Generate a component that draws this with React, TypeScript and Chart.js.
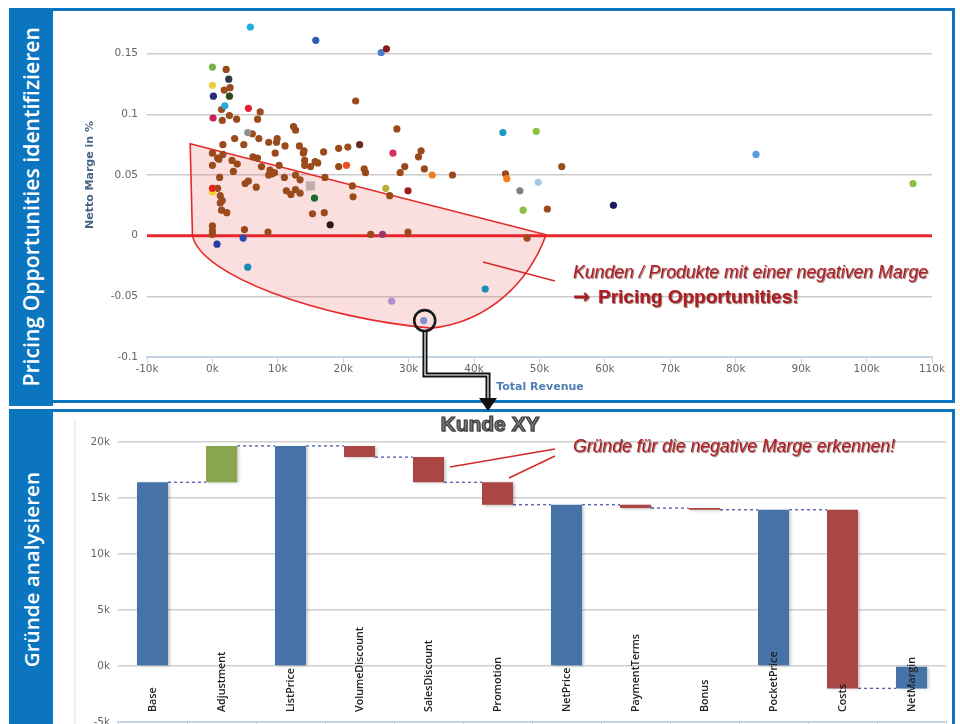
import React, { useEffect, useRef } from 'react';
import { Chart, registerables } from 'chart.js';

Chart.register(...registerables);
Chart.defaults.font.family = '"DejaVu Sans", "Liberation Sans", sans-serif';

// ---------------- Scatter data (Total Revenue in k, Netto Marge) ----------------
const brownRevenueK = [
  2.1, 1.8, 2.7, 21.9, 1.4, 7.3, 1.5, 2.6, 3.7, 6.9, 12.4, 12.7, 28.2, 6.1, 3.4, 7.1, 8.6, 9.9, 9.8, 11.1,
  13.3, 14.0, 13.9, 17.0, 19.3, 20.7, 31.9, 31.5, 1.6, 0.0, 0.8, 1.6, 4.8, 9.6, 6.2, 6.9, 3.0, 3.8, 0.0, 3.2,
  7.5, 8.8, 9.1, 9.5, 8.6, 10.2, 11.0, 12.7, 14.1, 14.1, 15.0, 16.1, 17.2, 19.3, 23.2, 23.4, 21.4, 29.4, 28.7, 32.4,
  36.7, 44.8, 5.0, 5.5, 6.7, 1.1, 0.8, 11.3, 12.0, 12.7, 13.4, 27.1, 1.2, 1.5, 1.2, 1.4, 2.2, 15.3, 17.1, 21.5,
  0.0, 0.0, 0.0, 4.9, 8.5, 24.2, 29.9, 48.1, 51.2, 53.4, 13.4, 1.0, 15.7
];
const brownMargin = [
  0.137, 0.120, 0.122, 0.111, 0.104, 0.102, 0.095, 0.099, 0.096, 0.096, 0.090, 0.087, 0.088, 0.084, 0.080, 0.080, 0.077, 0.080, 0.077, 0.074,
  0.074, 0.070, 0.068, 0.069, 0.072, 0.073, 0.070, 0.065, 0.075, 0.068, 0.064, 0.067, 0.075, 0.068, 0.065, 0.064, 0.062, 0.059, 0.058, 0.053,
  0.057, 0.054, 0.051, 0.052, 0.050, 0.058, 0.048, 0.050, 0.062, 0.058, 0.057, 0.060, 0.048, 0.057, 0.055, 0.052, 0.041, 0.057, 0.052, 0.055,
  0.050, 0.051, 0.043, 0.045, 0.040, 0.048, 0.039, 0.037, 0.034, 0.038, 0.035, 0.033, 0.033, 0.029, 0.027, 0.021, 0.019, 0.018, 0.019, 0.032,
  0.008, 0.004, 0.001, 0.005, 0.003, 0.001, 0.003, -0.002, 0.022, 0.057, 0.046, 0.063, 0.061
];
const otherRevenueK = [
  5.8, 15.8, 25.8, 26.6, 0.0, 2.5, 0.0, 0.15, 2.6, 1.9, 5.5, 0.1, 5.4, 44.4, 49.5, 22.5, 27.6, 20.5, 33.6, 45.0,
  83.1, 49.8, 26.5, 29.9, 0.0, 0.0, 15.6, 47.0, 47.5, 61.3, 107.1, 18.0, 26.0, 0.7, 4.7, 5.4, 41.7, 27.4, 32.3
];
const otherMargin = [
  0.172, 0.161, 0.151, 0.154, 0.139, 0.129, 0.124, 0.115, 0.115, 0.107, 0.105, 0.097, 0.085, 0.085, 0.086, 0.075, 0.068, 0.058, 0.050, 0.047,
  0.067, 0.044, 0.039, 0.037, 0.036, 0.039, 0.031, 0.037, 0.021, 0.025, 0.043, 0.009, 0.001, -0.007, -0.002, -0.026, -0.044, -0.054, -0.070
];
const otherColors = [
  '#1ab0e0', '#2a5db0', '#4a7cc8', '#8b1a1a', '#78b04a', '#2a3a48', '#e8d040', '#2a2a80', '#2f4a1a', '#22aae0',
  '#e8203a', '#c8205a', '#909090', '#1a9ac8', '#8ac040', '#6a2a2a', '#d8305a', '#f05020', '#f08020', '#f08020',
  '#5a9ae0', '#a8c8e8', '#b8b030', '#a01a1a', '#f0d020', '#e82020', '#1a6a2a', '#808080', '#8ac040', '#1a1a60',
  '#8ac040', '#2a1a10', '#9a3a6a', '#2a3aa0', '#2a4ab0', '#1a8ab8', '#1a8ab8', '#b090d0', '#8090d0'
];
const circledIndex = 38; // index in the "other" points (the circled customer)
const flaggedRevenueK = [15.0];
const flaggedMargin = [0.041];

const xTicksK = [-10, 0, 10, 20, 30, 40, 50, 60, 70, 80, 90, 100, 110];
const yTicksMargin = [-0.1, -0.05, 0, 0.05, 0.1, 0.15];

// Highlighted region (data coordinates): [revenueK, margin]
const regionTop = [-3.4, 0.0757];
const regionLeftBottom = [-3.05, 0];
const regionCurve1 = [[-1.8, -0.033], [16.5, -0.068], [33.4, -0.0762]];
const regionCurve2 = [[42.4, -0.0713], [48.5, -0.0369], [51.0, 0.0008]];

// ---------------- Waterfall data ----------------
const categories = [
  'Base', 'Adjustment', 'ListPrice', 'VolumeDiscount', 'SalesDiscount', 'Promotion',
  'NetPrice', 'PaymentTerms', 'Bonus', 'PocketPrice', 'Costs', 'NetMargin'
];
const stepValues = [16400, 3250, 0, -1000, -2250, -2000, 0, -300, -150, 0, -15950, 0];
const isSum = [false, false, true, false, false, false, true, false, false, true, false, true];
const yTicksWaterfall = [-5000, 0, 5000, 10000, 15000, 20000];

const BLUE = '#4572A7';
const GREEN = '#89A54E';
const RED = '#AA4643';
const FRAME = '#0b75c0';

const TOP_LEFT = 53, TOP_TOP = 2;
const BOT_LEFT = 53, BOT_TOP = 413;

function buildWaterfall() {
  let running = 0;
  const ranges: [number, number][] = [];
  const colors: string[] = [];
  const ends: number[] = [];
  stepValues.forEach((v, i) => {
    if (isSum[i]) {
      ranges.push([0, running]);
      colors.push(BLUE);
    } else if (i === 0) {
      running += v;
      ranges.push([0, running]);
      colors.push(BLUE);
    } else {
      const start = running;
      running += v;
      ranges.push([Math.min(start, running), Math.max(start, running)]);
      colors.push(v >= 0 ? GREEN : RED);
    }
    ends.push(running);
  });
  return { ranges, colors, ends };
}

function drawAnnoText(ctx: CanvasRenderingContext2D, text: string, x: number, y: number, font: string, maxW: number) {
  ctx.save();
  ctx.font = font;
  ctx.textAlign = 'left';
  ctx.textBaseline = 'middle';
  ctx.shadowColor = 'rgba(70,0,0,0.6)';
  ctx.shadowOffsetX = 1;
  ctx.shadowOffsetY = 1;
  ctx.shadowBlur = 1;
  ctx.fillStyle = '#b01b1f';
  ctx.fillText(text, x, y, maxW);
  ctx.restore();
}

function line(ctx: CanvasRenderingContext2D, x1: number, y1: number, x2: number, y2: number) {
  ctx.beginPath();
  ctx.moveTo(x1, y1);
  ctx.lineTo(x2, y2);
  ctx.stroke();
}

function ScatterChart() {
  const ref = useRef<HTMLCanvasElement>(null);
  useEffect(() => {
    if (!ref.current) return;
    const overlayPlugin = {
      id: 'scatterOverlay',
      beforeDatasetsDraw(chart: any) {
        const { ctx, scales, chartArea } = chart;
        const xs = scales.x, ys = scales.y;
        const P = (p: number[]) => [xs.getPixelForValue(p[0]), ys.getPixelForValue(p[1])];
        ctx.save();
        const t = P(regionTop), lb = P(regionLeftBottom);
        const c1 = regionCurve1.map(P), c2 = regionCurve2.map(P);
        ctx.beginPath();
        ctx.moveTo(t[0], t[1]);
        ctx.lineTo(lb[0], lb[1]);
        ctx.bezierCurveTo(c1[0][0], c1[0][1], c1[1][0], c1[1][1], c1[2][0], c1[2][1]);
        ctx.bezierCurveTo(c2[0][0], c2[0][1], c2[1][0], c2[1][1], c2[2][0], c2[2][1]);
        ctx.closePath();
        ctx.fillStyle = 'rgba(238,110,110,0.22)';
        ctx.fill();
        ctx.strokeStyle = '#e62a2a';
        ctx.lineWidth = 1.6;
        ctx.stroke();
        const y0 = ys.getPixelForValue(0);
        ctx.strokeStyle = '#e6262b';
        ctx.lineWidth = 3;
        line(ctx, chartArea.left, y0, chartArea.right, y0);
        ctx.restore();
      },
      afterDatasetsDraw(chart: any) {
        const { ctx, scales } = chart;
        const xs = scales.x, ys = scales.y;
        ctx.save();
        const cx = xs.getPixelForValue(otherRevenueK[circledIndex]);
        const cy = ys.getPixelForValue(otherMargin[circledIndex]);
        ctx.strokeStyle = '#1a1a1a';
        ctx.lineWidth = 2.6;
        ctx.beginPath();
        ctx.arc(cx + 1, cy, 10.5, 0, Math.PI * 2);
        ctx.stroke();
        // page coordinates from here on
        ctx.translate(-TOP_LEFT, -TOP_TOP);
        ctx.strokeStyle = '#d42a2a';
        ctx.lineWidth = 1.5;
        line(ctx, 483, 262, 555, 281);
        drawAnnoText(ctx, 'Kunden / Produkte mit einer negativen Marge', 573, 273, 'italic 18px "Liberation Sans"', 355);
        drawAnnoText(ctx, '\u2192', 573, 298, 'bold 20px "DejaVu Sans"', 24);
        drawAnnoText(ctx, 'Pricing Opportunities!', 598, 298, 'bold 19px "Liberation Sans"', 217);
        ctx.fillStyle = '#4a6584';
        ctx.font = 'bold 11px "DejaVu Sans"';
        ctx.textAlign = 'center';
        ctx.textBaseline = 'middle';
        ctx.save();
        ctx.translate(90, 175);
        ctx.rotate(-Math.PI / 2);
        ctx.fillText('Netto Marge in %', 0, 0);
        ctx.restore();
        ctx.fillStyle = '#4f7db5';
        ctx.fillText('Total Revenue', 540, 387, 92);
        ctx.restore();
      }
    };
    const chart = new Chart(ref.current, {
      type: 'scatter',
      data: {
        datasets: [
          {
            label: 'Andere',
            data: otherRevenueK.map((x, i) => ({ x, y: otherMargin[i] })),
            backgroundColor: otherColors,
            borderWidth: 0,
            pointRadius: 3.6,
          },
          {
            label: 'Markiert',
            data: flaggedRevenueK.map((x, i) => ({ x, y: flaggedMargin[i] })),
            backgroundColor: '#c0aeae',
            borderWidth: 0,
            pointStyle: 'rect',
            pointRadius: 6.5,
          },
          {
            label: 'Kunden',
            data: brownRevenueK.map((x, i) => ({ x, y: brownMargin[i] })),
            backgroundColor: '#9b4a1c',
            borderWidth: 0,
            pointRadius: 3.6,
          },
        ],
      },
      options: {
        animation: false,
        responsive: false,
        devicePixelRatio: 1,
        layout: { padding: { left: 0, right: 21, top: 4, bottom: 0 } },
        plugins: { legend: { display: false }, tooltip: { enabled: false } },
        scales: {
          x: {
            type: 'linear',
            min: -10,
            max: 110,
            afterBuildTicks: (s: any) => { s.ticks = xTicksK.map((v) => ({ value: v })); },
            afterFit: (s: any) => { s.height = 45; },
            ticks: {
              color: '#666',
              font: { size: 10.5 },
              padding: 0,
              maxRotation: 0,
              autoSkip: false,
              callback: (v: any) => `${v}k`,
            },
            grid: { drawOnChartArea: false, drawTicks: true, tickLength: 6, color: '#c4d4e4', lineWidth: 1 },
            border: { color: '#c4d4e4', width: 2 },
          },
          y: {
            type: 'linear',
            min: -0.1,
            max: 0.18,
            afterBuildTicks: (s: any) => { s.ticks = yTicksMargin.map((v) => ({ value: v })); },
            afterFit: (s: any) => { s.width = 94; },
            ticks: { color: '#666', font: { size: 10.5 }, padding: 9, callback: (v: any) => String(v) },
            grid: { color: '#cbcbcb', lineWidth: 1.5, drawTicks: false },
            border: { display: false },
          },
        },
      },
      plugins: [overlayPlugin],
    } as any);
    return () => chart.destroy();
  }, []);
  return <canvas ref={ref} width={900} height={400} style={{ position: 'absolute', left: TOP_LEFT, top: TOP_TOP, width: 900, height: 400 }} />;
}

function WaterfallChart() {
  const ref = useRef<HTMLCanvasElement>(null);
  useEffect(() => {
    if (!ref.current) return;
    const { ranges, colors, ends } = buildWaterfall();
    const plugin = {
      id: 'waterfallOverlay',
      beforeDatasetsDraw(chart: any) {
        const { ctx, scales } = chart;
        const meta = chart.getDatasetMeta(0);
        ctx.save();
        ctx.strokeStyle = '#e2e2e2';
        ctx.lineWidth = 1;
        line(ctx, 75 - BOT_LEFT, 420 - BOT_TOP, 75 - BOT_LEFT, 330);
        ctx.strokeStyle = '#5a62b0';
        ctx.lineWidth = 1.4;
        ctx.setLineDash([3, 3]);
        for (let i = 0; i < categories.length - 1; i++) {
          const a = meta.data[i], b = meta.data[i + 1];
          const y = scales.y.getPixelForValue(ends[i]);
          line(ctx, a.x + a.width / 2, y, b.x - b.width / 2, y);
        }
        ctx.restore();
      },
      beforeDatasetDraw(chart: any) {
        const ctx = chart.ctx;
        ctx.save();
        ctx.shadowColor = 'rgba(0,0,0,0.28)';
        ctx.shadowOffsetX = 2;
        ctx.shadowOffsetY = 1;
        ctx.shadowBlur = 3;
      },
      afterDatasetDraw(chart: any) {
        chart.ctx.restore();
      },
      afterDatasetsDraw(chart: any) {
        const { ctx, scales } = chart;
        ctx.save();
        ctx.fillStyle = '#222';
        ctx.font = '600 10.7px "Open Sans"';
        ctx.textAlign = 'left';
        ctx.textBaseline = 'middle';
        categories.forEach((c, i) => {
          const x = scales.x.getPixelForValue(i);
          ctx.save();
          ctx.translate(x, 712 - BOT_TOP);
          ctx.rotate(-Math.PI / 2);
          ctx.fillText(c, 0, 0);
          ctx.restore();
        });
        // page coordinates from here on
        ctx.translate(-BOT_LEFT, -BOT_TOP);
        ctx.font = 'bold 21px "Liberation Sans"';
        ctx.textAlign = 'center';
        ctx.textBaseline = 'middle';
        ctx.lineWidth = 1;
        ctx.strokeStyle = '#333';
        ctx.fillStyle = '#777';
        ctx.shadowColor = 'rgba(0,0,0,0.35)';
        ctx.shadowOffsetX = 1;
        ctx.shadowOffsetY = 1;
        ctx.fillText('Kunde XY', 490, 425, 99);
        ctx.shadowColor = 'transparent';
        ctx.strokeText('Kunde XY', 490, 425, 99);
        ctx.strokeStyle = '#d42a2a';
        ctx.lineWidth = 1.5;
        line(ctx, 555, 449, 450, 467);
        line(ctx, 555, 456, 509, 478);
        drawAnnoText(ctx, 'Gr\u00fcnde f\u00fcr die negative Marge erkennen!', 573, 447, 'italic 18px "Liberation Sans"', 322);
        ctx.restore();
      },
    };
    const chart = new Chart(ref.current, {
      type: 'bar',
      data: {
        labels: categories,
        datasets: [
          {
            label: 'Kunde XY',
            data: ranges,
            backgroundColor: colors,
            borderWidth: 0,
            borderSkipped: false,
            barPercentage: 0.45,
            categoryPercentage: 1,
          },
        ],
      },
      options: {
        animation: false,
        responsive: false,
        devicePixelRatio: 1,
        layout: { padding: { left: 0, right: 7, top: 29, bottom: 0 } },
        plugins: { legend: { display: false }, tooltip: { enabled: false } },
        scales: {
          x: {
            afterFit: (s: any) => { s.height = 21; },
            ticks: { display: false },
            grid: { drawOnChartArea: false, tickLength: 6, color: '#c4d4e4' },
            border: { color: '#c4d4e4', width: 2 },
          },
          y: {
            min: -5000,
            max: 20000,
            afterBuildTicks: (s: any) => { s.ticks = yTicksWaterfall.map((v) => ({ value: v })); },
            afterFit: (s: any) => { s.width = 65; },
            ticks: { color: '#666', font: { size: 10.5 }, padding: 8, callback: (v: any) => `${v / 1000}k` },
            grid: { color: '#d0d0d0', lineWidth: 1.5, drawTicks: false },
            border: { display: false },
          },
        },
      },
      plugins: [plugin],
    } as any);
    return () => chart.destroy();
  }, []);
  return <canvas ref={ref} width={900} height={330} style={{ position: 'absolute', left: BOT_LEFT, top: BOT_TOP, width: 900, height: 330 }} />;
}

const sideText: React.CSSProperties = {
  writingMode: 'vertical-rl',
  transform: 'rotate(180deg)',
  color: '#fff',
  fontFamily: '"Open Sans", sans-serif',
  fontWeight: 600,
  whiteSpace: 'nowrap',
  lineHeight: 1,
};

export default function App() {
  return (
    <div style={{ position: 'fixed', left: 0, top: 0, width: 960, height: 724, overflow: 'hidden', background: '#fff' }}>
      <div style={{ position: 'absolute', left: 9, top: 8, width: 946, height: 395, border: `3px solid ${FRAME}`, boxSizing: 'border-box' }} />
      <div style={{ position: 'absolute', left: 9, top: 8, width: 44, height: 398, background: FRAME, display: 'flex', alignItems: 'center', justifyContent: 'center' }}>
        <span style={{ ...sideText, fontSize: 21.2 }}>Pricing Opportunities identifizieren</span>
      </div>
      <div style={{ position: 'absolute', left: 9, top: 409, width: 946, height: 330, border: `3px solid ${FRAME}`, boxSizing: 'border-box' }} />
      <div style={{ position: 'absolute', left: 9, top: 409, width: 44, height: 322, background: FRAME, display: 'flex', alignItems: 'center', justifyContent: 'center' }}>
        <span style={{ ...sideText, fontSize: 20.6 }}>Gründe analysieren</span>
      </div>
      <ScatterChart />
      <WaterfallChart />
      <svg width={960} height={724} style={{ position: 'absolute', left: 0, top: 0, pointerEvents: 'none' }}>
        <path d="M425 331 V375 H488 V399" fill="none" stroke="#111" strokeWidth={5} />
        <path d="M425 332 V375 H488 V398" fill="none" stroke="#fff" strokeWidth={1.2} />
        <polygon points="479,398 497,398 488,411" fill="#111" />
      </svg>
    </div>
  );
}
